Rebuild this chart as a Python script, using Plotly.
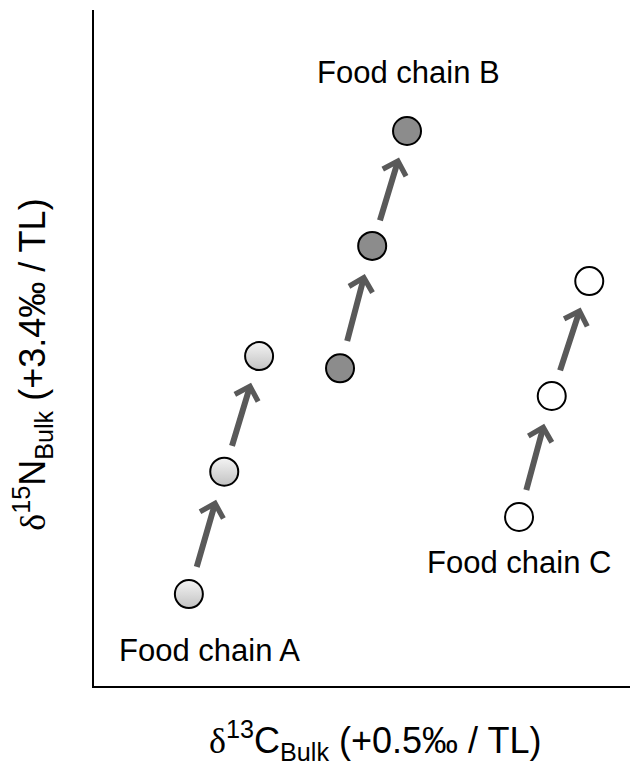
import plotly.graph_objects as go

# Data (arbitrary isotope units)
chain_a_x = [1.77, 2.43, 3.08]
chain_a_y = [1.36, 3.17, 4.88]
chain_b_x = [4.59, 5.19, 5.84]
chain_b_y = [4.70, 6.51, 8.21]
chain_c_x = [7.93, 8.54, 9.24]
chain_c_y = [2.50, 4.29, 5.99]

labels = ["Food chain A", "Food chain B", "Food chain C"]
label_x = [2.155, 5.87, 7.92]
label_y = [0.53, 9.07, 1.82]

x_range = [0, 10]
y_range = [0, 10]

fig = go.Figure()

series = [
    (chain_a_x, chain_a_y, dict(color="#f4f4f4", gradient=dict(type="vertical", color="#c2c2c2"))),
    (chain_b_x, chain_b_y, dict(color="#8c8c8c")),
    (chain_c_x, chain_c_y, dict(color="#ffffff")),
]

# arrows between successive points (shortened at both ends)
for xs, ys, _ in series:
    for i in range(len(xs) - 1):
        x0, y0, x1, y1 = xs[i], ys[i], xs[i + 1], ys[i + 1]
        fs, fe = 0.21, 0.77
        fig.add_annotation(
            x=x0 + (x1 - x0) * fe, y=y0 + (y1 - y0) * fe,
            ax=x0 + (x1 - x0) * fs, ay=y0 + (y1 - y0) * fs,
            xref="x", yref="y", axref="x", ayref="y",
            showarrow=True, arrowhead=4, arrowsize=0.78, arrowwidth=6,
            arrowcolor="#595959", text="",
        )

for (xs, ys, mk), name in zip(series, labels):
    marker = dict(size=28, line=dict(color="black", width=2))
    marker.update(mk)
    fig.add_trace(go.Scatter(x=xs, y=ys, mode="markers", marker=marker,
                             name=name, showlegend=False, hoverinfo="skip"))

for t, lx, ly in zip(labels, label_x, label_y):
    fig.add_annotation(x=lx, y=ly, text=t, showarrow=False,
                       xanchor="center", yanchor="middle",
                       font=dict(size=31, color="black", family="Liberation Sans, Arial"))

delta = '<span style="font-family:Liberation Serif, Times New Roman">δ</span>'
x_title = delta + "<sup>13</sup>C<sub>Bulk</sub> (+0.5‰ / TL)"
y_title = delta + "<sup>15</sup>N<sub>Bulk</sub> (+3.4‰ / TL)"

fig.add_annotation(xref="paper", yref="paper", x=0.524, y=-0.081,
                   xanchor="center", yanchor="middle", text=x_title, showarrow=False,
                   font=dict(size=36, color="black", family="Liberation Sans, Arial"))
fig.add_annotation(xref="paper", yref="paper", x=-0.114, y=0.475,
                   xanchor="center", yanchor="middle", text=y_title, showarrow=False,
                   textangle=-90,
                   font=dict(size=36, color="black", family="Liberation Sans, Arial"))

fig.update_layout(
    width=634, height=765,
    margin=dict(l=94, r=4, t=10, b=79, autoexpand=False),
    paper_bgcolor="white", plot_bgcolor="white",
    font=dict(family="Liberation Sans, Arial", color="black"),
    xaxis=dict(range=x_range, showline=True, linecolor="black", linewidth=2,
               showgrid=False, zeroline=False, showticklabels=False, ticks="",
               automargin=False),
    yaxis=dict(range=y_range, showline=True, linecolor="black", linewidth=2,
               showgrid=False, zeroline=False, showticklabels=False, ticks="",
               automargin=False),
)

fig.write_html("out.html", config={"displayModeBar": False},
               post_script="document.body.style.margin='0';document.body.style.overflow='hidden';")
